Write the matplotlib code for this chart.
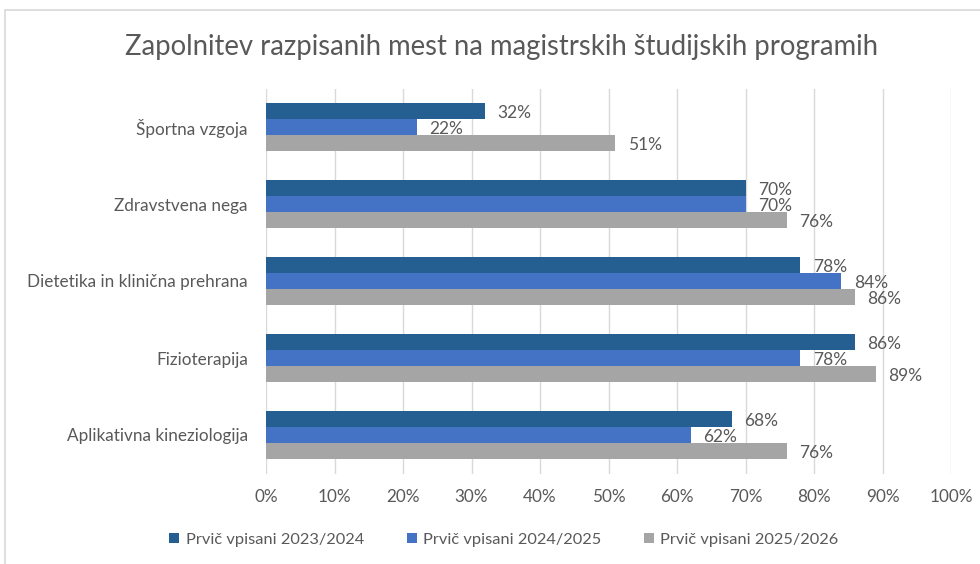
import numpy as np
import matplotlib.pyplot as plt
from matplotlib.patches import Rectangle

plt.rcParams['font.family'] = ['Lato', 'DejaVu Sans']

categories = ['Športna vzgoja', 'Zdravstvena nega', 'Dietetika in klinična prehrana',
              'Fizioterapija', 'Aplikativna kineziologija']
series_names = ['Prvič vpisani 2023/2024', 'Prvič vpisani 2024/2025', 'Prvič vpisani 2025/2026']
vals_2023 = [32, 70, 78, 86, 68]
vals_2024 = [22, 70, 84, 78, 62]
vals_2025 = [51, 76, 86, 89, 76]
xticks = [0, 10, 20, 30, 40, 50, 60, 70, 80, 90, 100]

colors = ['#255E91', '#4472C4', '#A5A5A5']
text_col = '#595959'

fig = plt.figure(figsize=(9.8, 5.64), dpi=100)
# chart area border
fig.patches.append(Rectangle((5 / 980, -0.05), 1.0, 1 - 10 / 564 + 0.05,
                             transform=fig.transFigure, fill=False,
                             edgecolor='#D9D9D9', linewidth=1.2))

ax = fig.add_axes([266 / 980, 1 - 473.5 / 564, 685 / 980, 385 / 564])

y = np.arange(len(categories))
h = 0.21
for i, (vals, name) in enumerate(zip([vals_2023, vals_2024, vals_2025], series_names)):
    pos = y + (i - 1) * h
    ax.barh(pos, vals, height=h, color=colors[i], label=name, zorder=3)
    for p, v in zip(pos, vals):
        ax.text(v + 1.8, p + 0.03, f'{v}%', va='center', ha='left',
                fontsize=12.5, color=text_col)

ax.set_xlim(0, 100)
ax.set_ylim(len(categories) - 0.5, -0.5)
ax.set_xticks(xticks)
ax.set_xticklabels([f'{t}%' for t in xticks])
ax.set_yticks(y)
ax.set_yticklabels(categories)
ax.tick_params(axis='x', length=0, pad=11, labelsize=12.3, colors=text_col)
ax.tick_params(axis='y', length=0, pad=13, labelsize=12.3, colors=text_col)
ax.grid(axis='x', color='#D9D9D9', linewidth=1, zorder=0)
for s in ax.spines.values():
    s.set_visible(False)

fig.text(501 / 980, 1 - 47 / 564, 'Zapolnitev razpisanih mest na magistrskih študijskih programih',
         ha='center', va='center', fontsize=19.8, color=text_col)

fig.legend(loc='center', bbox_to_anchor=(504 / 980, 1 - 540 / 564), ncol=3,
           frameon=False, fontsize=11.8, labelcolor=text_col,
           handlelength=0.6, handleheight=0.6, handletextpad=0.4, columnspacing=2.6)

fig.savefig('out.png', dpi=100)
